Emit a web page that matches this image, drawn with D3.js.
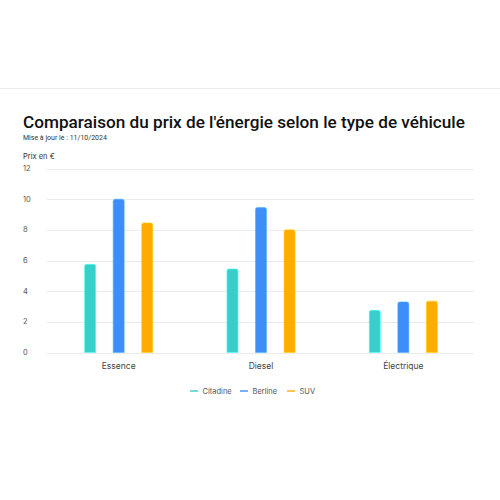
<!DOCTYPE html>
<html>
<head>
<meta charset="utf-8">
<script src="https://cdn.jsdelivr.net/npm/d3@7"></script>
<style>
  body { margin: 0; background: #fff; }
  svg { display: block; font-family: Inter, "Noto Sans", sans-serif; }
</style>
</head>
<body>
<svg width="500" height="500"></svg>
<script>
var categories = ["Essence", "Diesel", "Électrique"];
var series = ["Citadine", "Berline", "SUV"];
var citadine = [5.75, 5.45, 2.75];
var berline = [10, 9.45, 3.3];
var suv = [8.45, 8.0, 3.35];
var yTicks = [0, 2, 4, 6, 8, 10, 12];
var colors = ["#36cfc9", "#3d8ef8", "#ffab00"];

var values = [citadine, berline, suv];
var rows = categories.map(function(c, i) {
  return series.map(function(s, j) { return {cat: c, key: s, value: values[j][i]}; });
});

var svg = d3.select("svg");

// thin separator line at top
svg.append("line")
    .attr("x1", 0).attr("x2", 500)
    .attr("y1", 88.5).attr("y2", 88.5)
    .attr("stroke", "#ececec");

// title: shrink font until it fits the width seen in the reference
var title = svg.append("text")
    .attr("x", 23).attr("y", 128)
    .attr("font-family", "Roboto, sans-serif")
    .attr("font-size", 19)
    .attr("font-weight", 500)
    .attr("fill", "#111")
    .text("Comparaison du prix de l'énergie selon le type de véhicule");
var tw = title.node().getComputedTextLength();
if (tw > 442) title.attr("font-size", 19 * 442 / tw);

svg.append("text")
    .attr("x", 23).attr("y", 140)
    .attr("font-family", "Roboto, sans-serif")
    .attr("font-size", 7)
    .attr("fill", "#333")
    .text("Mise à jour le : 11/10/2024");

svg.append("text")
    .attr("x", 23).attr("y", 159)
    .attr("font-size", 7.5)
    .attr("fill", "#333")
    .text("Prix en €");

var x0 = d3.scaleBand()
    .domain(categories)
    .range([47.5, 474.5]);

var x1 = d3.scaleBand()
    .domain(series)
    .range([0, x0.bandwidth()])
    .paddingInner(0.614)
    .paddingOuter(1.3);

var y = d3.scaleLinear()
    .domain([0, 12])
    .range([352.5, 168.5]);

var color = d3.scaleOrdinal().domain(series).range(colors);

// grid + y labels
var grid = svg.append("g");
grid.selectAll("line")
  .data(yTicks)
  .enter().append("line")
    .attr("x1", 47).attr("x2", 474)
    .attr("y1", function(d) { return Math.round(y(d)) + 0.5; })
    .attr("y2", function(d) { return Math.round(y(d)) + 0.5; })
    .attr("stroke", "#ebebeb");
grid.selectAll("text")
  .data(yTicks)
  .enter().append("text")
    .attr("x", 23)
    .attr("y", function(d) { return y(d); })
    .attr("dy", "0.35em")
    .attr("font-size", 7.5)
    .attr("fill", "#555")
    .text(function(d) { return d; });

function barPath(x, yTop, w, h, r) {
  r = Math.min(r, h, w / 2);
  return "M" + x + "," + (yTop + h) +
    "V" + (yTop + r) +
    "Q" + x + "," + yTop + " " + (x + r) + "," + yTop +
    "H" + (x + w - r) +
    "Q" + (x + w) + "," + yTop + " " + (x + w) + "," + (yTop + r) +
    "V" + (yTop + h) + "Z";
}

var groups = svg.append("g")
  .selectAll("g")
  .data(rows)
  .enter().append("g")
    .attr("transform", function(d) { return "translate(" + x0(d[0].cat) + ",0)"; });

groups.selectAll("path")
  .data(function(d) { return d; })
  .enter().append("path")
    .attr("d", function(d) {
      return barPath(x1(d.key), y(d.value), x1.bandwidth(), y(0) - y(d.value), 2);
    })
    .attr("fill", function(d) { return color(d.key); })
    .attr("stroke", function(d) { return d3.color(color(d.key)).brighter(0.6); })
    .attr("stroke-width", 0.6);

// x labels
svg.append("g")
  .selectAll("text")
  .data(categories)
  .enter().append("text")
    .attr("x", function(d) { return x0(d) + x0.bandwidth() / 2; })
    .attr("y", 369)
    .attr("text-anchor", "middle")
    .attr("font-size", 8.5)
    .attr("fill", "#444")
    .text(function(d) { return d; });

// legend
var legendX = [190, 240, 287];
var legend = svg.append("g")
  .selectAll("g")
  .data(series)
  .enter().append("g")
    .attr("transform", function(d, i) { return "translate(" + legendX[i] + ",391)"; });
legend.append("line")
    .attr("x1", 0).attr("x2", 8)
    .attr("stroke", function(d) { return color(d); })
    .attr("stroke-width", 2)
    .attr("stroke-opacity", 0.7);
legend.append("text")
    .attr("x", 12.5)
    .attr("dy", "0.35em")
    .attr("font-size", 7.5)
    .attr("fill", "#555")
    .text(function(d) { return d; });
</script>
</body>
</html>
